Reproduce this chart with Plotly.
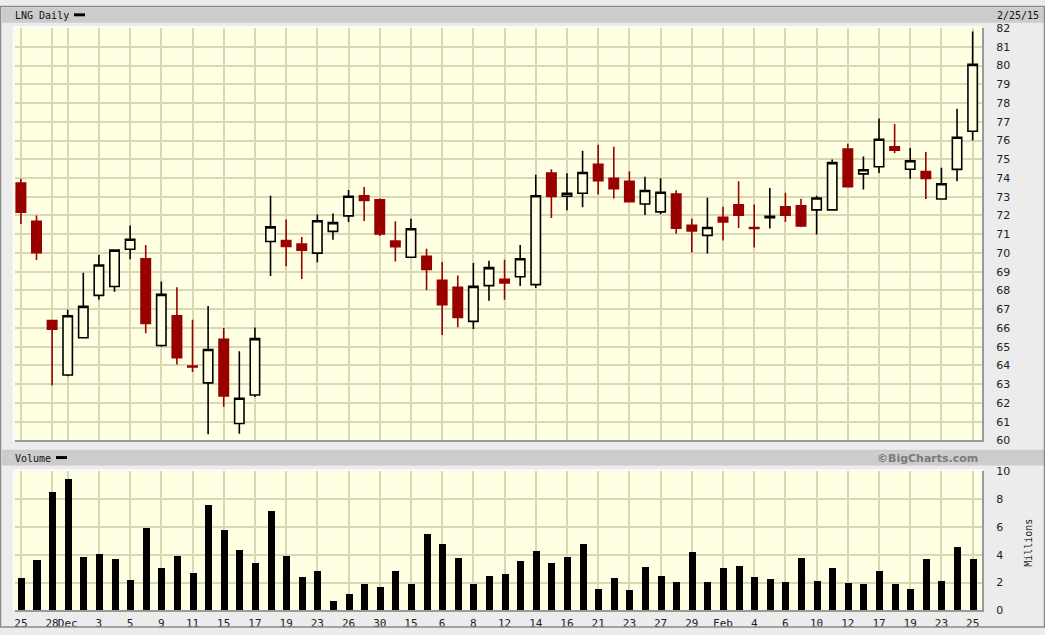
import plotly.graph_objects as go

# ---------------- data ----------------
opens = [73.73, 71.69, 66.39, 63.49, 65.48, 67.74, 68.21, 70.20, 69.69, 65.06,
         66.65, 63.97, 63.07, 65.39, 60.90, 62.42, 70.61, 70.66, 70.48, 69.99,
         71.15, 71.98, 73.05, 72.84, 70.64, 69.77, 69.82, 68.54, 68.17, 66.35,
         68.26, 68.59, 68.73, 68.31, 74.26, 73.03, 73.19, 74.73, 73.99, 73.83,
         72.61, 72.19, 73.15, 71.48, 70.94, 71.90, 72.57, 71.36, 71.88, 72.47,
         72.52, 72.30, 72.30, 75.55, 74.22, 74.60, 75.67, 74.47, 74.34, 72.88,
         74.46, 76.49]
highs = [73.96, 72.00, 66.40, 66.97, 68.94, 69.90, 70.17, 71.47, 70.43, 68.48,
         68.17, 66.44, 67.17, 66.00, 64.76, 66.02, 73.05, 71.79, 70.85, 72.05,
         72.10, 73.36, 73.52, 72.91, 71.69, 71.83, 70.22, 69.52, 68.80, 69.47,
         69.59, 69.64, 70.43, 74.17, 74.46, 74.25, 75.46, 75.78, 75.67, 74.36,
         74.07, 73.99, 73.35, 71.83, 72.95, 72.47, 73.83, 72.58, 73.47, 73.21,
         72.89, 73.05, 74.99, 75.83, 75.15, 77.18, 76.88, 75.60, 75.39, 74.55,
         77.70, 81.82]
lows = [71.54, 69.62, 62.94, 63.42, 65.45, 67.51, 67.93, 69.66, 65.72, 65.00,
        64.05, 63.65, 60.33, 61.79, 60.36, 62.32, 68.77, 69.29, 68.61, 69.50,
        70.71, 71.65, 71.70, 70.90, 69.55, 69.75, 68.03, 65.62, 66.04, 65.95,
        67.45, 67.50, 68.24, 68.13, 71.86, 72.28, 72.44, 73.12, 72.91, 72.70,
        72.02, 72.07, 71.02, 70.02, 69.97, 70.67, 71.33, 70.29, 71.30, 71.65,
        71.39, 70.99, 72.28, 73.50, 73.38, 74.27, 75.32, 73.96, 72.88, 72.87,
        73.82, 76.00]
closes = [72.17, 70.02, 65.93, 66.65, 67.15, 69.36, 70.15, 70.73, 66.24, 67.79,
          64.41, 63.92, 64.85, 62.37, 62.25, 65.43, 71.39, 70.35, 70.15, 71.72,
          71.62, 73.03, 72.80, 71.02, 70.34, 71.29, 69.12, 67.24, 66.56, 68.22,
          69.22, 68.40, 69.69, 73.05, 73.01, 73.19, 74.29, 73.85, 73.43, 72.73,
          73.33, 73.24, 71.32, 71.18, 71.36, 71.65, 72.01, 71.31, 71.96, 72.02,
          71.44, 72.93, 74.82, 73.53, 74.44, 76.07, 75.48, 74.92, 73.98, 73.69,
          76.17, 80.06]
volumes = [2.32, 3.59, 8.49, 9.41, 3.81, 4.02, 3.66, 2.17, 5.93, 3.03,
           3.88, 2.67, 7.57, 5.79, 4.30, 3.38, 7.14, 3.88, 2.39, 2.81,
           0.69, 1.18, 1.89, 1.68, 2.81, 1.89, 5.44, 4.73, 3.74, 1.89,
           2.46, 2.60, 3.52, 4.23, 3.38, 3.81, 4.73, 1.54, 2.32, 1.47,
           3.10, 2.46, 2.03, 4.16, 2.03, 3.03, 3.17, 2.39, 2.25, 2.03,
           3.74, 2.10, 3.03, 1.96, 1.89, 2.81, 1.89, 1.54, 3.66, 2.10,
           4.52, 3.66]
day_index = list(range(len(opens)))
tick_positions = [0, 2] + list(range(3, 62, 2))
tick_labels = ["25", "28", "Dec", "3", "5", "9", "11", "15", "17", "19", "23",
               "26", "30", "15", "6", "8", "12", "14", "16", "21", "23", "27",
               "29", "Feb", "4", "6", "10", "12", "17", "19", "23", "25"]
price_ticks = list(range(60, 83))
volume_ticks = [0, 2, 4, 6, 8, 10]

# ---------------- style ----------------
W, H = 1045, 635
BG = "#ECECEC"
PLOT_BG = "#FFFFE3"
GRID = "#D8D8B2"
RED = "#990000"
HEAD = "#CCCCCC"
XL, XR = 14.5, 982.0
P_TOP, P_BOT = 22.5, 443.5
V_TOP, V_BOT = 475.0, 617.0


def fx(px):
    return px / W


def fy(py):
    return 1 - py / H


fig = go.Figure()

fig.add_trace(go.Candlestick(
    x=day_index, open=opens, high=highs, low=lows, close=closes,
    increasing=dict(line=dict(color="#000000", width=1.6), fillcolor=PLOT_BG),
    decreasing=dict(line=dict(color=RED, width=1.6), fillcolor=RED),
    whiskerwidth=0, xaxis="x", yaxis="y", showlegend=False, hoverinfo="skip",
))

fig.add_trace(go.Bar(
    x=day_index, y=volumes, width=0.45, marker=dict(color="#000000", line=dict(width=0)),
    xaxis="x2", yaxis="y2", showlegend=False, hoverinfo="skip",
))

xr = [-0.41, 61.6]
font_mono = "DejaVu Sans Mono"
font_sans = "DejaVu Sans"

fig.update_layout(
    width=W, height=H,
    margin=dict(l=0, r=0, t=0, b=0),
    paper_bgcolor=BG, plot_bgcolor=PLOT_BG,
    boxgap=0.14,
    bargap=0,
    xaxis=dict(domain=[fx(XL), fx(XR)], range=xr, tickmode="array",
               tickvals=tick_positions, showticklabels=False, showgrid=True,
               gridcolor=GRID, gridwidth=1.7, zeroline=False, anchor="y",
               rangeslider=dict(visible=False), showline=True, linecolor="#9A9A9A",
               linewidth=2, ticks=""),
    yaxis=dict(domain=[fy(P_BOT), fy(P_TOP)], range=[60, 82], side="right",
               tickmode="array", tickvals=price_ticks, showgrid=True,
               gridcolor=GRID, gridwidth=1.7, zeroline=False, anchor="x",
               tickfont=dict(family=font_sans, size=11, color="#222222"),
               ticks="", ticklabelstandoff=10, showline=True, linecolor="#9A9A9A",
               linewidth=2),
    xaxis2=dict(domain=[fx(XL), fx(XR)], range=xr, tickmode="array",
                tickvals=tick_positions, ticktext=tick_labels, showgrid=True,
                gridcolor=GRID, gridwidth=1.7, zeroline=False, anchor="y2",
                tickangle=0,
                tickfont=dict(family=font_mono, size=11, color="#222222"),
                ticks="", ticklabelstandoff=1, showline=True, linecolor="#9A9A9A",
                linewidth=2),
    yaxis2=dict(domain=[fy(V_BOT), fy(V_TOP)], range=[0, 10], side="right",
                tickmode="array", tickvals=volume_ticks, showgrid=True,
                gridcolor=GRID, gridwidth=1.7, zeroline=False, anchor="x2",
                tickfont=dict(family=font_sans, size=11, color="#222222"),
                ticks="", ticklabelstandoff=10, showline=True, linecolor="#9A9A9A",
                linewidth=2),
)

shapes = [
    # header bars
    dict(type="rect", xref="paper", yref="paper", x0=fx(2), x1=fx(1045),
         y0=fy(17), y1=fy(2), fillcolor=HEAD, line=dict(width=0), layer="below"),
    dict(type="rect", xref="paper", yref="paper", x0=fx(2), x1=fx(1045),
         y0=fy(469), y1=fy(453), fillcolor=HEAD, line=dict(width=0), layer="below"),
    # legend dashes
    dict(type="rect", xref="paper", yref="paper", x0=fx(74), x1=fx(85),
         y0=fy(10.5), y1=fy(7.5), fillcolor="#000000", line=dict(width=0)),
    dict(type="rect", xref="paper", yref="paper", x0=fx(56), x1=fx(67),
         y0=fy(462.5), y1=fy(459.5), fillcolor="#000000", line=dict(width=0)),
    # outer frame
    dict(type="rect", xref="paper", yref="paper", x0=fx(0.5), x1=fx(1044.5),
         y0=fy(634), y1=fy(0.5), line=dict(color="#8A8A8A", width=1.5)),
    # light inner edges of the panels
    dict(type="line", xref="paper", yref="paper", x0=fx(XL - 1), x1=fx(XL - 1),
         y0=fy(P_BOT), y1=fy(P_TOP), line=dict(color="#FFFFFF", width=1.5)),
    dict(type="line", xref="paper", yref="paper", x0=fx(XL - 1), x1=fx(XR),
         y0=fy(P_TOP - 1), y1=fy(P_TOP - 1), line=dict(color="#FFFFFF", width=1.5)),
    dict(type="line", xref="paper", yref="paper", x0=fx(XL - 1), x1=fx(XL - 1),
         y0=fy(V_BOT), y1=fy(V_TOP), line=dict(color="#FFFFFF", width=1.5)),
    dict(type="line", xref="paper", yref="paper", x0=fx(XL - 1), x1=fx(XR),
         y0=fy(V_TOP - 1), y1=fy(V_TOP - 1), line=dict(color="#FFFFFF", width=1.5)),
]
fig.update_layout(shapes=shapes)

annotations = [
    dict(text="LNG Daily", x=fx(13), y=fy(9.5), xref="paper", yref="paper",
         xanchor="left", yanchor="middle", showarrow=False,
         font=dict(family=font_mono, size=10, color="#111111")),
    dict(text="2/25/15", x=fx(1041), y=fy(9.5), xref="paper", yref="paper",
         xanchor="right", yanchor="middle", showarrow=False,
         font=dict(family=font_mono, size=10, color="#111111")),
    dict(text="Volume", x=fx(13), y=fy(461.5), xref="paper", yref="paper",
         xanchor="left", yanchor="middle", showarrow=False,
         font=dict(family=font_mono, size=10, color="#111111")),
    dict(text="<b>©BigCharts.com</b>", x=fx(980), y=fy(461.5), xref="paper", yref="paper",
         xanchor="right", yanchor="middle", showarrow=False,
         font=dict(family=font_sans, size=11, color="#7A7A7A")),
    dict(text="Millions", x=fx(1029), y=fy(548), xref="paper", yref="paper",
         xanchor="center", yanchor="middle", showarrow=False, textangle=-90,
         font=dict(family=font_mono, size=10, color="#222222")),
]
fig.update_layout(annotations=annotations)

post_js = (
    "document.documentElement.style.margin='0';"
    "document.documentElement.style.overflow='hidden';"
    "document.body.style.margin='0';"
    "document.body.style.overflow='hidden';"
    "var d=document.getElementById('{plot_id}');"
    "d.style.position='fixed';d.style.left='0px';d.style.top='0px';"
)

fig.write_html(
    "out.html",
    config={"displayModeBar": False},
    post_script=post_js,
)
